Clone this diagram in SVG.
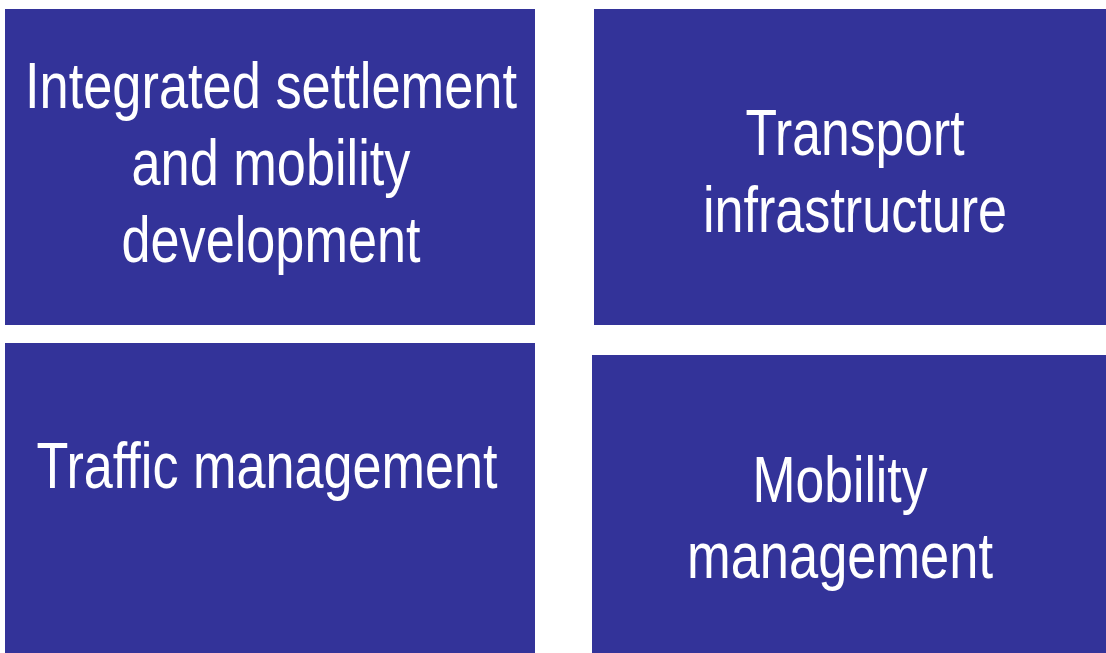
<svg xmlns="http://www.w3.org/2000/svg" width="1106" height="653" viewBox="0 0 1106 653">
<style>
.box{fill:#333399}
.t{fill:#ffffff;font-family:"Liberation Sans",Arial,sans-serif;font-size:64px;text-anchor:middle}
</style>
<rect width="1106" height="653" fill="#ffffff"/>
<g id="node-integrated">
<rect class="box" x="5" y="9" width="530" height="316"/>
<text class="t" x="271" y="108" textLength="492" lengthAdjust="spacingAndGlyphs">Integrated settlement</text>
<text class="t" x="271" y="185" textLength="279" lengthAdjust="spacingAndGlyphs">and mobility</text>
<text class="t" x="271" y="262" textLength="299" lengthAdjust="spacingAndGlyphs">development</text>
</g>
<g id="node-transport">
<rect class="box" x="594" y="9" width="512" height="316"/>
<text class="t" x="855" y="155" textLength="219" lengthAdjust="spacingAndGlyphs">Transport</text>
<text class="t" x="855" y="232" textLength="304" lengthAdjust="spacingAndGlyphs">infrastructure</text>
</g>
<g id="node-traffic">
<rect class="box" x="5" y="343" width="530" height="310"/>
<text class="t" x="267" y="488" textLength="461" lengthAdjust="spacingAndGlyphs">Traffic management</text>
</g>
<g id="node-mobility">
<rect class="box" x="592" y="355" width="514" height="298"/>
<text class="t" x="840" y="502" textLength="175" lengthAdjust="spacingAndGlyphs">Mobility</text>
<text class="t" x="840" y="578" textLength="306" lengthAdjust="spacingAndGlyphs">management</text>
</g>
<g id="connectors"></g>
</svg>
